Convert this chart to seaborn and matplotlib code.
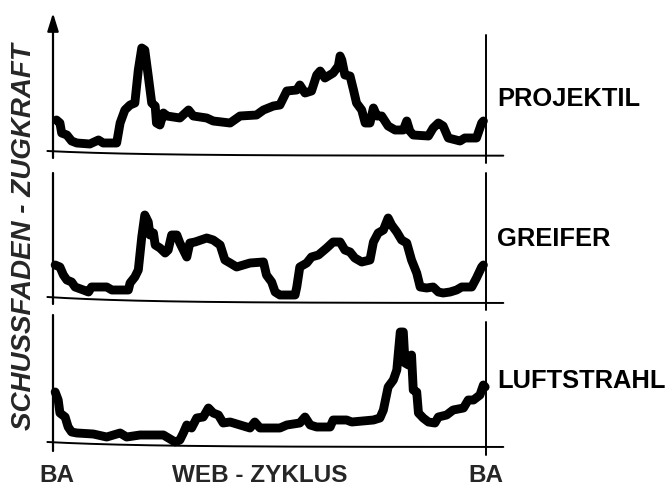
import numpy as np
import pandas as pd
import matplotlib
matplotlib.use("Agg")
import matplotlib.pyplot as plt
import seaborn as sns

# ---- data (web cycle in %, weft tension in arbitrary units) ----
labels = ["PROJEKTIL", "GREIFER", "LUFTSTRAHL"]
x_label = "WEB - ZYKLUS"
y_label = "SCHUSSFADEN - ZUGKRAFT"
x_ticks = ["BA", "BA"]

proj_x = [0.8, 1.6, 2.0, 3.2, 4.3, 5.5, 8.5, 10.5, 11.6, 14.7, 15.5, 16.6, 17.8, 18.9, 19.7,
          20.5, 21.2, 22.0, 22.8, 23.6, 23.9, 24.7, 25.5, 26.3, 29.3, 31.3, 32.4, 35.5, 37.0,
          40.9, 43.2, 47.0, 48.6, 50.9, 52.4, 54.0, 56.3, 57.0, 58.2, 59.7, 60.9, 61.7, 62.8,
          64.7, 65.9, 66.3, 66.7, 67.4, 68.6, 69.4, 70.1, 71.3, 72.1, 73.2, 74.0, 74.8, 75.9,
          77.4, 79.0, 80.9, 81.7, 82.4, 83.2, 86.7, 87.8, 89.0, 90.1, 91.3, 94.0, 95.1, 97.8,
          99.0, 99.4]
proj_y = [33, 30, 20, 18, 12, 10, 9, 13, 10, 10, 30, 43, 48, 50, 83,
          105, 103, 77, 50, 47, 30, 28, 40, 37, 35, 43, 37, 35, 32,
          30, 37, 38, 43, 47, 48, 62, 63, 68, 60, 62, 78, 82, 75,
          80, 87, 97, 93, 78, 77, 63, 50, 43, 30, 30, 45, 37, 37,
          27, 23, 23, 32, 22, 18, 17, 25, 30, 27, 15, 12, 15, 15,
          30, 32]

greif_x = [0.5, 1.6, 2.4, 3.2, 4.3, 5.1, 7.0, 8.2, 8.9, 12.4, 13.6, 17.4, 17.8, 18.9, 19.7,
           20.5, 21.2, 22.0, 22.4, 23.2, 23.6, 24.7, 25.9, 26.6, 27.4, 28.6, 29.3, 30.9, 31.6,
           32.8, 35.5, 37.0, 38.6, 39.7, 40.9, 42.4, 45.5, 48.6, 49.3, 50.5, 51.3, 52.4, 55.9,
           56.3, 57.0, 58.6, 59.7, 61.3, 63.2, 64.7, 66.3, 67.4, 68.6, 69.7, 71.3, 73.2, 74.0,
           75.1, 76.3, 77.4, 78.2, 79.4, 80.5, 81.7, 82.8, 84.0, 84.8, 86.3, 87.8, 89.0, 90.1,
           91.7, 93.2, 94.4, 96.7, 97.8, 99.0, 99.4]
greif_y = [35, 33, 25, 20, 18, 13, 10, 8, 13, 13, 10, 10, 17, 23, 30,
           63, 85, 78, 65, 67, 55, 52, 47, 50, 65, 65, 57, 43, 57,
           58, 62, 60, 55, 40, 37, 33, 37, 38, 25, 18, 8, 5, 5,
           13, 33, 37, 43, 45, 52, 58, 58, 50, 48, 42, 38, 40, 58,
           67, 70, 82, 75, 68, 60, 57, 40, 27, 13, 12, 13, 8, 7,
           8, 10, 13, 13, 22, 33, 35]

luft_x = [0.5, 1.2, 1.6, 2.8, 3.5, 4.3, 5.5, 9.3, 12.4, 15.5, 17.0, 20.1, 25.5, 28.2, 29.3,
          30.1, 30.9, 32.0, 33.2, 34.7, 35.9, 37.0, 38.2, 39.3, 40.9, 43.2, 45.5, 46.6, 47.8,
          52.4, 54.0, 57.0, 58.2, 59.4, 60.9, 64.0, 64.7, 67.8, 69.0, 74.0, 75.5, 76.3, 77.4,
          78.6, 79.4, 80.2, 80.9, 81.3, 82.1, 82.8, 83.2, 84.0, 84.4, 85.5, 86.7, 88.2, 89.0,
          90.9, 92.4, 94.8, 95.9, 97.1, 98.6, 99.4, 99.8]
luft_y = [52, 44, 31, 27, 17, 12, 11, 10, 7, 11, 7, 9, 9, 2, 4,
          11, 19, 16, 26, 27, 36, 31, 29, 21, 22, 19, 16, 22, 16,
          16, 19, 21, 27, 19, 17, 17, 24, 24, 22, 24, 26, 34, 57,
          64, 74, 112, 112, 81, 79, 89, 54, 52, 31, 26, 22, 21, 27,
          29, 34, 36, 44, 44, 49, 59, 57]

series = [(proj_x, proj_y), (greif_x, greif_y), (luft_x, luft_y)]

# ---- style ----
sns.set_theme(style="white")
plt.rcParams["font.family"] = ["Liberation Sans", "DejaVu Sans"]

W, H = 670, 486
fig = plt.figure(figsize=(W / 100, H / 100), dpi=100)
fig.patch.set_facecolor("white")

X0, X1 = -2.0, 104.0
px_left = 53 - 2 * 4.33
ax_w = (X1 - X0) * 4.33
panels = [
    dict(bottom_px=161, ylim=(-8, 140), ltop=140, lbot=-5, rtop=118, rbot=-10, bl=(2.0, -2.7), arrow=True),
    dict(bottom_px=312, ylim=(-12, 135), ltop=127, lbot=-4, rtop=127, rbot=-10, bl=(3.0, -3.0), arrow=False),
    dict(bottom_px=458, ylim=(-14, 135), ltop=129, lbot=-7, rtop=122, rbot=-11, bl=(2.0, -3.0), arrow=False),
]

for (xs, ys), p in zip(series, panels):
    h = p["ylim"][1] - p["ylim"][0]
    ax = fig.add_axes([px_left / W, 1 - p["bottom_px"] / H, ax_w / W, h / H])
    df = pd.DataFrame({"zyklus": xs, "kraft": ys})
    sns.lineplot(data=df, x="zyklus", y="kraft", ax=ax, color="black", lw=6.4,
                 estimator=None, sort=False, solid_capstyle="round", solid_joinstyle="round")
    ax.set_xlim(X0, X1)
    ax.set_ylim(*p["ylim"])
    ax.axis("off")
    # baseline (slightly curved near the left end)
    bx = np.linspace(-1.3, 104, 200)
    bL, bR = p["bl"]
    by = bR + (bL - bR) * np.exp(-(bx + 1.3) / 22)
    ax.plot(bx, by, color="black", lw=1.4, clip_on=False)
    # left axis
    if p["arrow"]:
        ax.annotate("", xy=(0, p["ltop"]), xytext=(0, p["lbot"]),
                    arrowprops=dict(arrowstyle="-|>,head_length=0.9,head_width=0.28",
                                    lw=1.6, color="black", shrinkA=0, shrinkB=0),
                    annotation_clip=False)
    else:
        ax.plot([0, 0], [p["lbot"], p["ltop"]], color="black", lw=1.6, clip_on=False)
    # right line (BA)
    ax.plot([100, 100], [p["rbot"], p["rtop"]], color="black", lw=1.4, clip_on=False)

# panel labels
for lab, yb in zip(labels, [106, 246, 388]):
    fig.text(497 / W, 1 - yb / H, lab, fontsize=18.4, fontweight="bold",
             ha="left", va="baseline", color="black")

# x labels
fig.text(57 / W, 1 - 482 / H, x_ticks[0], fontsize=17.5, fontweight="bold", ha="center", va="baseline")
fig.text(486 / W, 1 - 482 / H, x_ticks[1], fontsize=17.5, fontweight="bold", ha="center", va="baseline")
fig.text(260 / W, 1 - 482 / H, x_label, fontsize=17.5, fontweight="bold", ha="center", va="baseline")

# y label
fig.text(24 / W, 1 - 237 / H, y_label, fontsize=20, fontweight="bold", fontstyle="italic",
         rotation=90, ha="center", va="center")

fig.savefig("out.png", dpi=100, facecolor="white")
